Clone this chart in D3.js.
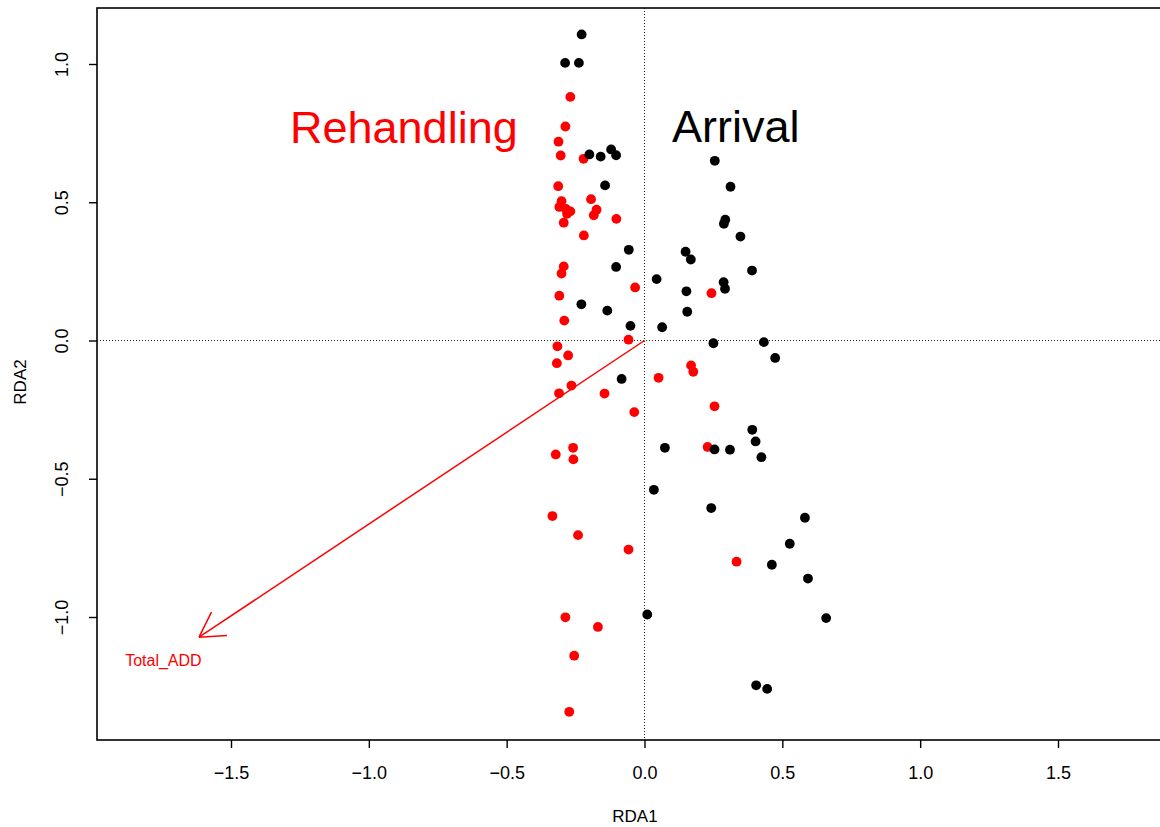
<!DOCTYPE html>
<html>
<head>
<meta charset="utf-8">
<script src="https://cdn.jsdelivr.net/npm/d3@7/dist/d3.min.js"></script>
<style>
  html, body { margin: 0; padding: 0; background: #fff; overflow: hidden; }
  svg { display: block; font-family: "Liberation Sans", Arial, sans-serif; }
</style>
</head>
<body>
<svg id="chart" width="1160" height="827"></svg>
<script>
// Site scores on the first two RDA axes, split by group
const arrivalX = [-0.228, -0.288, -0.238, -0.200, -0.159, -0.121, -0.103, -0.143, -0.057, 0.149,
  0.168, -0.103, 0.044, 0.152, -0.229, -0.135, 0.155, -0.051, 0.064, -0.083,
  0.074, 0.034, 0.010, 0.255, 0.312, 0.293, 0.288, 0.348, 0.390, 0.287,
  0.292, 0.250, 0.433, 0.474, 0.391, 0.403, 0.424, 0.254, 0.310, 0.242,
  0.582, 0.527, 0.462, 0.593, 0.659, 0.405, 0.445];
const arrivalY = [1.107, 1.004, 1.004, 0.673, 0.665, 0.691, 0.670, 0.561, 0.328, 0.321,
  0.293, 0.266, 0.222, 0.178, 0.131, 0.108, 0.104, 0.053, 0.048, -0.139,
  -0.388, -0.540, -0.991, 0.650, 0.556, 0.437, 0.422, 0.376, 0.253, 0.211,
  0.187, -0.010, -0.006, -0.063, -0.323, -0.365, -0.422, -0.394, -0.395, -0.606,
  -0.641, -0.735, -0.811, -0.861, -1.004, -1.247, -1.260];

const rehandlingX = [-0.269, -0.287, -0.312, -0.304, -0.221, -0.313, -0.301, -0.309, -0.285, -0.269,
  -0.281, -0.293, -0.194, -0.174, -0.184, -0.102, -0.220, -0.293, -0.301, -0.034,
  -0.309, -0.291, -0.058, -0.316, -0.277, -0.318, 0.051, 0.169, 0.177, -0.265,
  -0.310, -0.145, -0.037, -0.259, -0.322, -0.258, -0.334, -0.241, -0.058, -0.287,
  -0.169, -0.255, -0.273, 0.243, 0.254, 0.229, 0.334];
const rehandlingY = [0.881, 0.774, 0.719, 0.669, 0.657, 0.558, 0.504, 0.483, 0.476, 0.467,
  0.458, 0.426, 0.511, 0.473, 0.453, 0.440, 0.380, 0.268, 0.242, 0.192,
  0.162, 0.072, 0.003, -0.021, -0.054, -0.082, -0.135, -0.090, -0.113, -0.163,
  -0.191, -0.192, -0.259, -0.388, -0.412, -0.430, -0.635, -0.704, -0.756, -1.001,
  -1.036, -1.140, -1.343, 0.171, -0.238, -0.385, -0.800];

// Biplot arrow for the explanatory variable
const envName = ["Total_ADD"];
const envX = [-1.616];
const envY = [-1.073];

// Axis ticks
const xTicks = [-1.5, -1.0, -0.5, 0.0, 0.5, 1.0, 1.5];
const yTicks = [-1.0, -0.5, 0.0, 0.5, 1.0];
const xTitle = "RDA1";
const yTitle = "RDA2";

const svg = d3.select("#chart");
const box = { left: 97, top: 8, right: 1192, bottom: 740 };

const x = d3.scaleLinear().domain([-1.5, 1.5]).range([231, 1058]);
const y = d3.scaleLinear().domain([-1, 1]).range([617, 64]);
const fmt = d3.format(".1f");

svg.append("rect").attr("width", 1160).attr("height", 827).attr("fill", "#fff");

const clip = svg.append("defs").append("clipPath").attr("id", "plotclip");
clip.append("rect").attr("x", box.left).attr("y", box.top)
  .attr("width", box.right - box.left).attr("height", box.bottom - box.top);

const plot = svg.append("g").attr("clip-path", "url(#plotclip)");

// Reference lines through the origin
plot.append("line")
  .attr("x1", x(0)).attr("x2", x(0)).attr("y1", box.top).attr("y2", box.bottom)
  .attr("stroke", "#222").attr("stroke-width", 1).attr("stroke-dasharray", "1,2");
plot.append("line")
  .attr("x1", box.left).attr("x2", box.right).attr("y1", y(0)).attr("y2", y(0))
  .attr("stroke", "#222").attr("stroke-width", 1).attr("stroke-dasharray", "1,2");

// Group labels
plot.append("text").attr("x", 290).attr("y", 143)
  .attr("font-size", 45).attr("fill", "#ff0000").text("Rehandling");
plot.append("text").attr("x", 672).attr("y", 142)
  .attr("font-size", 45).attr("fill", "#000").text("Arrival");

// Site points
const rehandling = rehandlingX.map((v, i) => ({ x: v, y: rehandlingY[i] }));
const arrival = arrivalX.map((v, i) => ({ x: v, y: arrivalY[i] }));

plot.append("g").selectAll("circle").data(rehandling).join("circle")
  .attr("cx", d => x(d.x)).attr("cy", d => y(d.y)).attr("r", 4.9)
  .attr("fill", "#ff0000");
plot.append("g").selectAll("circle").data(arrival).join("circle")
  .attr("cx", d => x(d.x)).attr("cy", d => y(d.y)).attr("r", 4.9)
  .attr("fill", "#000");

// Environmental arrow with open head
const arrows = envName.map((n, i) => ({ name: n, x: envX[i], y: envY[i] }));
const ag = plot.append("g");
arrows.forEach(a => {
  const x0 = x(0), y0 = y(0), x1 = x(a.x), y1 = y(a.y);
  ag.append("line").attr("x1", x0).attr("y1", y0).attr("x2", x1).attr("y2", y1)
    .attr("stroke", "#ff0000").attr("stroke-width", 1.5);
  const ang = Math.atan2(y0 - y1, x0 - x1);
  const len = 28, spread = Math.PI / 6;
  [ang - spread, ang + spread].forEach(t => {
    ag.append("line").attr("x1", x1).attr("y1", y1)
      .attr("x2", x1 + len * Math.cos(t)).attr("y2", y1 + len * Math.sin(t))
      .attr("stroke", "#ff0000").attr("stroke-width", 1.5);
  });
  ag.append("text").attr("x", x(a.x * 1.08)).attr("y", y(a.y * 1.08))
    .attr("text-anchor", "middle").attr("dominant-baseline", "central")
    .attr("font-size", 16).attr("fill", "#ff0000").text(a.name);
});

// Frame
svg.append("rect").attr("x", box.left).attr("y", box.top)
  .attr("width", box.right - box.left).attr("height", box.bottom - box.top)
  .attr("fill", "none").attr("stroke", "#000").attr("stroke-width", 1.6);

// Bottom axis
const xAxis = svg.append("g").attr("transform", `translate(0,${box.bottom})`)
  .call(d3.axisBottom(x).tickValues(xTicks).tickFormat(fmt).tickSize(8).tickPadding(18));
xAxis.select(".domain").remove();
xAxis.selectAll("line").attr("stroke", "#000").attr("stroke-width", 1.4);
xAxis.selectAll("text").attr("font-size", 18).attr("fill", "#000")
  .attr("font-family", "Liberation Sans, Arial, sans-serif");

// Left axis with rotated labels
const yAxis = svg.append("g").attr("transform", `translate(${box.left},0)`)
  .call(d3.axisLeft(y).tickValues(yTicks).tickFormat(fmt).tickSize(8));
yAxis.select(".domain").remove();
yAxis.selectAll("line").attr("stroke", "#000").attr("stroke-width", 1.4);
yAxis.selectAll("text")
  .attr("font-size", 18).attr("fill", "#000")
  .attr("font-family", "Liberation Sans, Arial, sans-serif")
  .attr("x", null).attr("dy", null)
  .attr("text-anchor", "middle")
  .attr("transform", "translate(-35,0) rotate(-90)")
  .attr("y", 0).attr("dominant-baseline", "central");

// Axis titles
svg.append("text").attr("x", 635).attr("y", 822).attr("text-anchor", "middle")
  .attr("font-size", 17).attr("fill", "#000").text(xTitle);
svg.append("text").attr("transform", "translate(26,382) rotate(-90)")
  .attr("text-anchor", "middle").attr("font-size", 17).attr("fill", "#000").text(yTitle);
</script>
</body>
</html>
